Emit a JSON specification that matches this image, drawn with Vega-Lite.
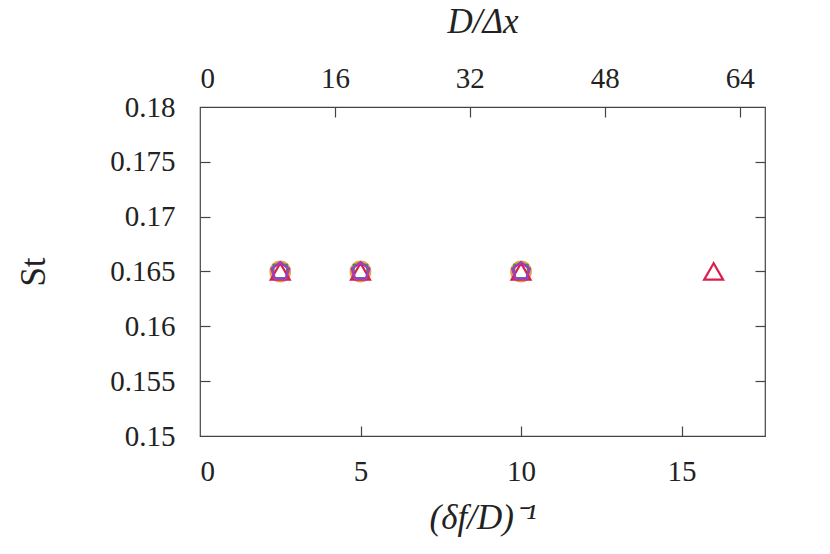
{
  "$schema": "https://vega.github.io/schema/vega-lite/v6.json",
  "autosize": {"type": "none"},
  "width": 565,
  "height": 329,
  "padding": {"left": 200, "top": 107, "right": 65, "bottom": 118},
  "background": "white",
  "config": {
    "view": {"stroke": "#444", "strokeWidth": 1.2},
    "axis": {
      "labelFont": "Liberation Serif",
      "titleFont": "Liberation Serif",
      "labelFontSize": 29,
      "titleFontSize": 35,
      "labelColor": "#222",
      "titleColor": "#222",
      "titleFontWeight": "normal",
      "grid": false,
      "domain": false,
      "tickColor": "#444",
      "tickWidth": 1.2
    }
  },
  "datasets": {
    "pts": [
      {"x": 2.5, "st": 0.165, "series": "a"},
      {"x": 5, "st": 0.165, "series": "a"},
      {"x": 10, "st": 0.165, "series": "a"},
      {"x": 2.5, "st": 0.165, "series": "b"},
      {"x": 5, "st": 0.165, "series": "b"},
      {"x": 10, "st": 0.165, "series": "b"},
      {"x": 2.5, "st": 0.165, "series": "c"},
      {"x": 5, "st": 0.165, "series": "c"},
      {"x": 10, "st": 0.165, "series": "c"},
      {"x": 16, "st": 0.165, "series": "c"},
      {"x": 2.5, "st": 0.165, "series": "d"},
      {"x": 5, "st": 0.165, "series": "d"},
      {"x": 10, "st": 0.165, "series": "d"}
    ],
    "top": [{"dx": 0, "st": 0.15}]
  },
  "layer": [
    {
      "data": {"name": "pts"},
      "transform": [{"filter": "datum.series === 'a'"}],
      "mark": {"type": "point", "shape": "circle", "filled": false, "opacity": 1, "strokeWidth": 2.8, "size": 360, "color": "#e9a43a"},
      "encoding": {
        "x": {
          "field": "x", "type": "quantitative",
          "scale": {"domain": [0, 17.6], "nice": false, "zero": false},
          "axis": {"orient": "bottom", "values": [0, 5, 10, 15], "ticks": false, "labelPadding": 0, "offset": 21, "title": "(δf/D)⁻¹", "titleFontStyle": "italic", "titlePadding": 14}
        },
        "y": {
          "field": "st", "type": "quantitative",
          "scale": {"domain": [0.15, 0.18], "nice": false, "zero": false},
          "axis": {"orient": "left", "values": [0.15, 0.155, 0.16, 0.165, 0.17, 0.175, 0.18], "ticks": false, "labelPadding": 0, "offset": 25, "format": "~g", "title": "St", "titlePadding": 58}
        }
      }
    },
    {
      "data": {"name": "pts"},
      "transform": [{"filter": "datum.series === 'b'"}],
      "mark": {"type": "point", "shape": "square", "filled": false, "opacity": 1, "strokeWidth": 2.2, "size": 180, "color": "#3c9a3c"},
      "encoding": {
        "x": {"field": "x", "type": "quantitative", "scale": {"domain": [0, 17.6], "nice": false, "zero": false},
          "axis": {"orient": "bottom", "values": [5, 10, 15], "tickSize": -10, "labels": false, "title": null}},
        "y": {"field": "st", "type": "quantitative", "scale": {"domain": [0.15, 0.18], "nice": false, "zero": false},
          "axis": {"orient": "left", "values": [0.155, 0.16, 0.165, 0.17, 0.175], "tickSize": -10, "labels": false, "title": null}}
      }
    },
    {
      "data": {"name": "pts"},
      "transform": [{"filter": "datum.series === 'c'"}],
      "mark": {"type": "point", "shape": "triangle-up", "filled": false, "opacity": 1, "strokeWidth": 2.2, "size": 360, "color": "#dc1e4a"},
      "encoding": {
        "x": {"field": "x", "type": "quantitative", "scale": {"domain": [0, 17.6], "nice": false, "zero": false}, "axis": null},
        "y": {"field": "st", "type": "quantitative", "scale": {"domain": [0.15, 0.18], "nice": false, "zero": false}, "axis": null}
      }
    },
    {
      "data": {"name": "pts"},
      "transform": [{"filter": "datum.series === 'd'"}],
      "mark": {"type": "point", "shape": "M0,-1L0.951,-0.309L0.588,0.809L-0.588,0.809L-0.951,-0.309Z", "filled": false, "opacity": 1, "strokeWidth": 2.6, "size": 330, "color": "#9b3fc4"},
      "encoding": {
        "x": {"field": "x", "type": "quantitative", "scale": {"domain": [0, 17.6], "nice": false, "zero": false}, "axis": null},
        "y": {"field": "st", "type": "quantitative", "scale": {"domain": [0.15, 0.18], "nice": false, "zero": false}, "axis": null}
      }
    },
    {
      "data": {"name": "top"},
      "mark": {"type": "point", "opacity": 0},
      "encoding": {
        "x": {
          "field": "dx", "type": "quantitative",
          "scale": {"domain": [0, 67], "nice": false, "zero": false},
          "axis": {"orient": "top", "values": [0, 16, 32, 48, 64], "ticks": false, "labelPadding": 0, "offset": 14, "title": "D/Δx", "titleFontStyle": "italic", "titlePadding": 25}
        },
        "y": {
          "field": "st", "type": "quantitative",
          "scale": {"domain": [0.15, 0.18], "nice": false, "zero": false},
          "axis": {"orient": "right", "values": [0.155, 0.16, 0.165, 0.17, 0.175], "tickSize": -10, "labels": false, "title": null}
        }
      }
    },
    {
      "data": {"name": "top"},
      "mark": {"type": "point", "opacity": 0},
      "encoding": {
        "x": {
          "field": "dx", "type": "quantitative",
          "scale": {"domain": [0, 67], "nice": false, "zero": false},
          "axis": {"orient": "top", "values": [16, 32, 48, 64], "tickSize": -10, "labels": false, "title": null}
        },
        "y": {
          "field": "st", "type": "quantitative",
          "scale": {"domain": [0.15, 0.18], "nice": false, "zero": false},
          "axis": null
        }
      }
    }
  ],
  "resolve": {"scale": {"x": "independent", "y": "independent"}}
}
